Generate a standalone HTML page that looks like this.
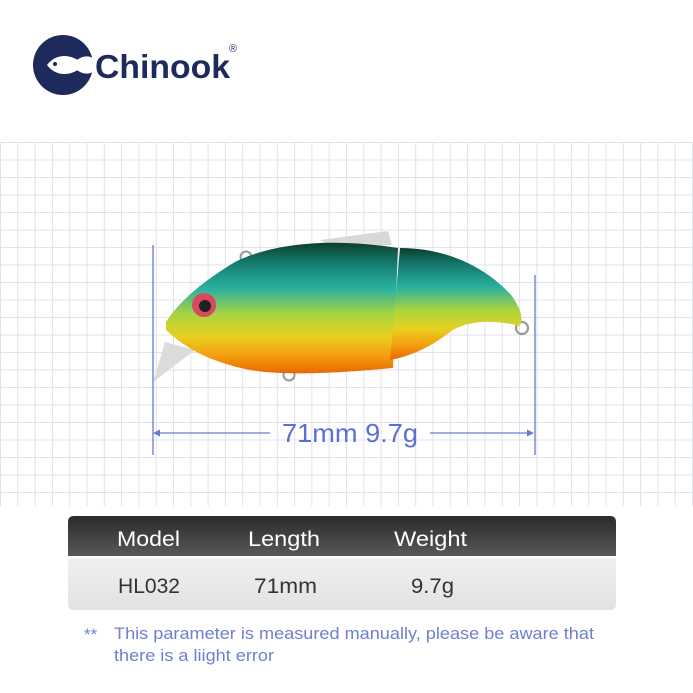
<!DOCTYPE html>
<html><head><meta charset="utf-8"><style>
html,body{margin:0;padding:0;background:#fff;width:693px;height:693px;overflow:hidden}
</style></head><body>
<svg width="693" height="693" viewBox="0 0 693 693" xmlns="http://www.w3.org/2000/svg" font-family="Liberation Sans, DejaVu Sans, sans-serif">
<defs>
<pattern id="g" x="0" y="142" width="17.3" height="17.5" patternUnits="userSpaceOnUse">
<path d="M0.5,0 V17.5 M0,0.5 H17.3" stroke="#e0e1ec" stroke-width="1" fill="none"/>
</pattern>
<linearGradient id="body" x1="0" y1="0" x2="0" y2="1">
<stop offset="0" stop-color="#0d3e2c"/>
<stop offset="0.15" stop-color="#137a6e"/>
<stop offset="0.35" stop-color="#2ab0a0"/>
<stop offset="0.55" stop-color="#a8d440"/>
<stop offset="0.72" stop-color="#e8d020"/>
<stop offset="0.86" stop-color="#f4a010"/>
<stop offset="1" stop-color="#e86800"/>
</linearGradient>
<linearGradient id="hdr" x1="0" y1="0" x2="0" y2="1">
<stop offset="0" stop-color="#2a2a2a"/><stop offset="1" stop-color="#585858"/>
</linearGradient>
<linearGradient id="row" x1="0" y1="0" x2="0" y2="1">
<stop offset="0" stop-color="#f0f0f0"/><stop offset="1" stop-color="#e2e2e2"/>
</linearGradient>
</defs>
<rect x="0" y="142" width="693" height="364" fill="url(#g)"/>
<!-- logo -->
<circle cx="63" cy="65" r="30" fill="#1f2a5c"/>
<path d="M72,65 C82,52 95,55 98,65 C95,75 82,78 72,65 Z" fill="#fff"/>
<path d="M47,65 C56,53 72,53 84,65 C72,77 56,77 47,65 Z" fill="#fff"/>
<circle cx="55" cy="64" r="2" fill="#1f2a5c"/>
<text x="95" y="78" font-size="33" font-weight="bold" fill="#1f2a5c" textLength="135" lengthAdjust="spacingAndGlyphs">Chinook</text>
<text x="229" y="52" font-size="11" fill="#1f2a5c">®</text>
<!-- fish -->
<path d="M320,240 L388,231 L392,245 L330,246 Z" fill="#d8d8d8"/>
<circle cx="246" cy="257" r="5.5" fill="none" stroke="#999" stroke-width="2"/>
<circle cx="289" cy="375" r="5.5" fill="none" stroke="#999" stroke-width="2"/>
<circle cx="522" cy="328" r="6" fill="none" stroke="#999" stroke-width="2.2"/>
<path d="M165,342 L195,350 L153,382 Z" fill="#dcdcdc"/>
<path d="M166,322 C180,300 205,280 235,262 C275,242 335,238 398,248 L393,368 C340,373 285,376 250,370 C210,362 185,348 166,330 Z" fill="url(#body)"/>
<path d="M400,248 C445,248 485,266 512,296 C520,308 524,318 520,326 C500,321 470,318 450,332 C432,346 412,356 390,360 Z" fill="url(#body)"/>
<circle cx="204" cy="305" r="12" fill="#d84860"/>
<circle cx="205" cy="306" r="6" fill="#222"/>
<!-- ruler -->
<g stroke="#6a7ad0" stroke-width="1.3" fill="none">
<path d="M153,245 V455 M535,275 V455 M156,433 H270 M430,433 H531"/>
</g>
<path d="M153,433 L160,429.5 L160,436.5 Z M534,433 L527,429.5 L527,436.5 Z" fill="#6a7ad0"/>
<text x="282" y="442" font-size="26" fill="#5a6fd0" textLength="136" lengthAdjust="spacingAndGlyphs">71mm 9.7g</text>
<!-- table -->
<path d="M74,516 H610 Q616,516 616,522 V556 H68 V522 Q68,516 74,516 Z" fill="url(#hdr)"/>
<path d="M68,558 H616 V604 Q616,610 610,610 H74 Q68,610 68,604 Z" fill="url(#row)"/>
<g font-size="21" fill="#fff">
<text x="117" y="546" textLength="63" lengthAdjust="spacingAndGlyphs">Model</text>
<text x="248" y="546" textLength="72" lengthAdjust="spacingAndGlyphs">Length</text>
<text x="394" y="546" textLength="73" lengthAdjust="spacingAndGlyphs">Weight</text>
</g>
<g font-size="21" fill="#333">
<text x="118" y="593" textLength="62" lengthAdjust="spacingAndGlyphs">HL032</text>
<text x="254" y="593" textLength="63" lengthAdjust="spacingAndGlyphs">71mm</text>
<text x="411" y="593" textLength="43" lengthAdjust="spacingAndGlyphs">9.7g</text>
</g>
<g font-size="17" fill="#6f7fd0">
<text x="84" y="640">**</text>
<text x="114" y="639" textLength="480" lengthAdjust="spacingAndGlyphs">This parameter is measured manually, please be aware that</text>
<text x="114" y="661" textLength="160" lengthAdjust="spacingAndGlyphs">there is a liight error</text>
</g>
</svg>
</body></html>
